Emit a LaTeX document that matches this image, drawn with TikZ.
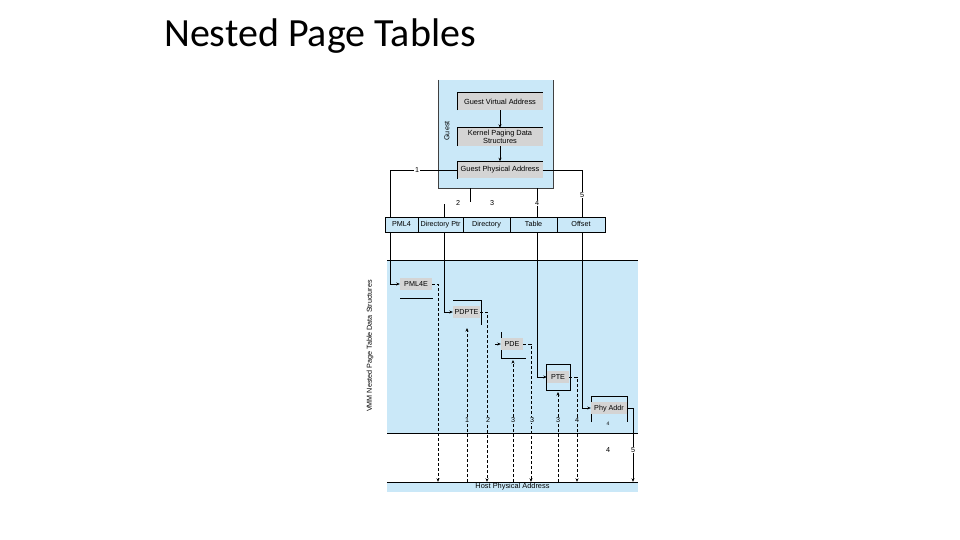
\documentclass[tikz,border=0pt]{standalone}
\usepackage{fontspec}
\setmainfont{Liberation Sans}
\newfontfamily\titlefont{Carlito}
\usetikzlibrary{arrows.meta}
\definecolor{lblue}{RGB}{202,232,248}
\definecolor{egray}{RGB}{212,212,212}
\begin{document}
\begin{tikzpicture}[x=1pt,y=-1pt,
  lbl/.style={font=\fontsize{7.2}{8}\selectfont, inner sep=0.6pt},
  gbox/.style={fill=egray, minimum width=85pt, inner sep=0pt, font=\fontsize{7.4}{8.4}\selectfont, align=center},
  entry/.style={fill=egray, minimum height=12pt, inner sep=0pt, text height=5.4pt, text depth=1.4pt, font=\fontsize{7.2}{8}\selectfont},
  field/.style={draw=black, line width=0.5pt, fill=lblue, minimum height=15pt, inner sep=0pt, text height=5.4pt, text depth=1.6pt, font=\fontsize{7.2}{8}\selectfont},
  wire/.style={line width=0.6pt, draw=black},
  dwire/.style={wire, dash pattern=on 3pt off 2pt},
  arr/.style={-{Stealth[length=3.5pt,width=3pt]}},
  tbl/.style={line width=0.6pt, draw=black},
]
\useasboundingbox (0,0) rectangle (960,540);
\fill[white] (0,0) rectangle (960,540);

% title
\node[anchor=base west, inner sep=0, font=\titlefont\fontsize{40}{45}\selectfont] (title) at (164,47) {Nested Page Tables};

% backgrounds
\fill[lblue] (438,80) rectangle (553,188);
\draw[line width=0.6pt, draw=black!75] (438,80) -- (438,188) -- (553,188) -- (553,80);
\fill[lblue] (387,260) rectangle (638,433);
\draw[tbl] (387,260) -- (638,260);
\draw[tbl] (387,433) -- (638,433);
\node[fill=lblue, minimum width=251pt, minimum height=10pt, inner sep=0pt, font=\fontsize{7.4}{8}\selectfont] (hpa) at (512.5,487) {Host Physical Address};
\draw[tbl] (hpa.north west) -- (hpa.north east);

% guest
\node[lbl, rotate=90] (guest) at (447,131) {Guest};
\node[gbox, minimum height=17pt] (gva) at (500,101.5) {Guest Virtual Address};
\node[gbox, minimum height=18pt] (kps) at (500,137) {Kernel Paging Data\\Structures};
\node[gbox, minimum height=17pt] (gpa) at (500,170) {Guest Physical Address};
\foreach \b in {gva,kps,gpa}{\draw[wire] (\b.south west) -- (\b.north west) -- (\b.north east);}
\draw[wire,arr] (gva.south) -- (kps.north);
\draw[wire,arr] (kps.south) -- (gpa.north);

% address fields
\node[field, minimum width=33pt] (f1) at (401.5,224.5) {PML4};
\node[field, minimum width=45pt] (f2) at (440.5,224.5) {Directory Ptr};
\node[field, minimum width=47pt] (f3) at (486.5,224.5) {Directory};
\node[field, minimum width=47pt] (f4) at (533.5,224.5) {Table};
\node[field, minimum width=48pt] (f5) at (581,224.5) {Offset};

% top connectors
\coordinate (k1) at (390,170);
\coordinate (k5) at (582,170);
\coordinate (t4) at (537,188);
\coordinate (t3a) at (470,188);
\coordinate (t3b) at (470,202);
\coordinate (t2a) at (444,204);
\draw[wire] (gpa.west) -- (k1) -- (k1 |- f1.north);
\draw[wire] (gpa.east) -- (k5) -- (k5 |- f5.north);
\draw[wire] (t4) -- (t4 |- f4.north);
\draw[wire] (t3a) -- (t3b);
\draw[wire] (t2a) -- (t2a |- f2.north);
\node[lbl, fill=white] (n1) at (417,170) {1};
\node[lbl, fill=white] (n5) at (582,195) {5};
\node[lbl, fill=white] (n4) at (537,203) {4};
\node[lbl] (n2) at (458,203) {2};
\node[lbl] (n3) at (492,203) {3};

% tables
\draw[tbl] (400,298) -- (433,298);
\draw[tbl] (453,300) -- (481,300) -- (481,325);
\draw[tbl] (501,332) -- (501,358) -- (526,358);
\draw[tbl] (546,364) rectangle (570,390);
\draw[tbl] (591,422) -- (591,396) -- (627,396) -- (627,422);

\node[entry, minimum width=32pt] (pml4e) at (416,284) {PML4E};
\node[entry, minimum width=27pt] (pdpte) at (466.5,312) {PDPTE};
\node[entry, minimum width=22pt] (pde) at (512,344) {PDE};
\node[entry, minimum width=22pt] (pte) at (558,377) {PTE};
\node[entry, minimum width=36pt] (phy) at (609,408) {Phy Addr};

% guest walk connectors
\coordinate (s3) at (495,344);
\draw[wire,arr] (k1 |- f1.south) |- (pml4e.west);
\draw[wire,arr] (t2a |- f2.south) |- (pdpte.west);
\draw[wire,arr] (s3) -- (pde.west);
\draw[wire,arr] (t4 |- f4.south) |- (pte.west);
\draw[wire,arr] (k5 |- f5.south) |- (phy.west);

% host translations
\draw[dwire,arr] (pml4e.east) -- (438,284) coordinate (d1) -- (d1 |- hpa.north);
\draw[dwire,arr] (pdpte.east) -- (487,312) coordinate (d2) -- (d2 |- hpa.north);
\draw[dwire,arr] (pde.east) -- (531,344) coordinate (d3) -- (d3 |- hpa.north);
\draw[dwire,arr] (pte.east) -- (577,377) coordinate (d4) -- (d4 |- hpa.north);
\draw[wire,arr] (phy.east) -- (633,408) coordinate (d5) -- (d5 |- hpa.north);
\coordinate (u1) at (467,328);
\coordinate (u2) at (513,360);
\coordinate (u3) at (558,392);
\draw[dwire,arr] (u1 |- hpa.north) -- (u1);
\draw[dwire,arr] (u2 |- hpa.north) -- (u2);
\draw[dwire,arr] (u3 |- hpa.north) -- (u3);

% step labels
\node[lbl, fill=lblue] (b1) at (467,420) {1};
\node[lbl, fill=lblue] (b2) at (488,420) {2};
\node[lbl, fill=lblue] (b3) at (513,420) {3};
\node[lbl, fill=lblue] (b4) at (532,420) {3};
\node[lbl, fill=lblue] (b5) at (558,420) {3};
\node[lbl, fill=lblue] (b6) at (577,420) {4};
\node[lbl, font=\fontsize{5}{6}\selectfont] (b7) at (608,424) {4};
\node[lbl, fill=white] (w4) at (608,450) {4};
\node[lbl, fill=white] (w5) at (633,450) {5};

% side label
\node[lbl, rotate=90] (vmm) at (370,346) {VMM Nested Page Table Data Structures};
\end{tikzpicture}
\end{document}
